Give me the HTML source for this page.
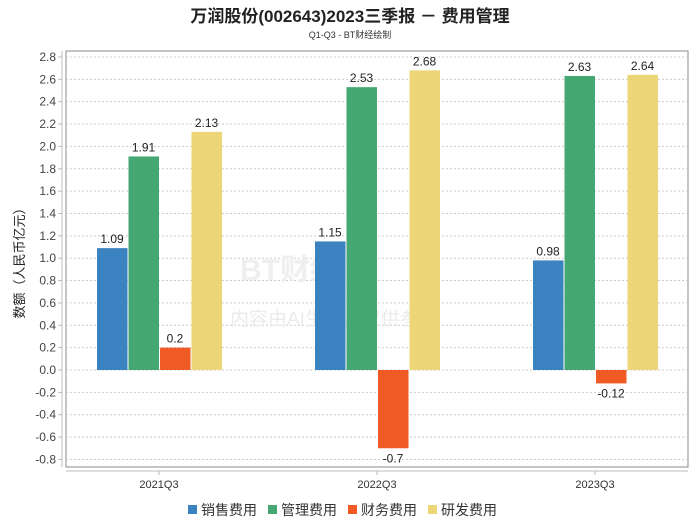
<!DOCTYPE html>
<html><head><meta charset="utf-8">
<style>
body{margin:0;background:#fff;font-family:"Liberation Sans","Noto Sans CJK SC",sans-serif;}
svg text{font-family:"Liberation Sans","Noto Sans CJK SC",sans-serif;}
</style></head>
<body>
<svg id="chart" width="700" height="524" xmlns="http://www.w3.org/2000/svg">
<text x="350" y="22" text-anchor="middle" font-size="17" font-weight="bold" fill="#222">万润股份(002643)2023三季报 － 费用管理</text>
<text x="350" y="38" text-anchor="middle" font-size="9" fill="#333">Q1-Q3 - BT财经绘制</text>
<rect x="66" y="51" width="622" height="416" fill="none" stroke="#888"/>
<line x1="62" y1="51" x2="62" y2="467" stroke="#bbb"/>
<line x1="66" y1="471" x2="688" y2="471" stroke="#bbb"/>
<g id="grid"></g>
<text x="240" y="280" font-size="30" fill="#efefef" font-weight="bold">BT财经</text>
<text x="230" y="325" font-size="19" fill="#ebebeb">内容由AI生成，仅供参考</text>
<g id="bars"></g><g id="labels"></g>
<text transform="translate(24,260) rotate(-90)" text-anchor="middle" font-size="13" fill="#222">数额（人民币亿元）</text>
<g id="legend"></g>
</svg>
<script>
const categories=["2021Q3","2022Q3","2023Q3"];
const seriesNames=["销售费用","管理费用","财务费用","研发费用"];
const sales=[1.09,1.15,0.98];
const admin=[1.91,2.53,2.63];
const finance=[0.2,-0.7,-0.12];
const rnd=[2.13,2.68,2.64];
const yTicks=[2.8,2.6,2.4,2.2,2.0,1.8,1.6,1.4,1.2,1.0,0.8,0.6,0.4,0.2,0.0,-0.2,-0.4,-0.6,-0.8];
const colors=["#3a82c0","#45a772","#ef5a25","#edd677"];
const series=[sales,admin,finance,rnd];
const NS="http://www.w3.org/2000/svg";
const y=v=>370-v*111.8;
const xc=i=>159+i*218;
function mk(tag,attrs,parent,text){const e=document.createElementNS(NS,tag);for(const k in attrs)e.setAttribute(k,attrs[k]);if(text!==undefined)e.textContent=text;document.getElementById(parent).appendChild(e);return e;}
yTicks.forEach(t=>{
  const l=mk("line",{x1:66,x2:688,y1:y(t),y2:y(t),stroke:"#ccc","stroke-dasharray":"2,2"},"grid");
  
  
  const k=mk("line",{x1:58,x2:62,y1:y(t),y2:y(t),stroke:"#bbb"},"grid");
  
  
  const tx=mk("text",{x:56,y:y(t)+4,"text-anchor":"end","font-size":12,fill:"#444"},"grid",t.toFixed(1));
  
  
});
categories.forEach((c,i)=>{
  const k=mk("line",{x1:xc(i),x2:xc(i),y1:471,y2:475,stroke:"#bbb"},"grid");
  
  
  const t=mk("text",{x:xc(i),y:488,"text-anchor":"middle","font-size":11,fill:"#333"},"grid",c);
  
  
  series.forEach((s,j)=>{
    const v=s[i];const x=xc(i)-62+j*31.5;
    const top=Math.min(y(v),y(0)),h=Math.abs(y(v)-y(0));
    const b=mk("rect",{x:x,y:top,width:30.5,height:h,fill:colors[j]},"bars");
    
    
    const ly=v>=0?y(v)-5:y(v)+14;
    const lb=mk("text",{x:x+15,y:ly,"text-anchor":"middle","font-size":12,fill:"#222"},"labels",String(v));
    
    
  });
});
let lx=188;
seriesNames.forEach((n,j)=>{
  const r=mk("rect",{x:lx,y:505,width:9,height:9,fill:colors[j]},"legend");
  
  
  const t=mk("text",{x:lx+13,y:515,"font-size":14,fill:"#333"},"legend",n);
  
  
  lx+=80;
});
</script>
</body></html>
